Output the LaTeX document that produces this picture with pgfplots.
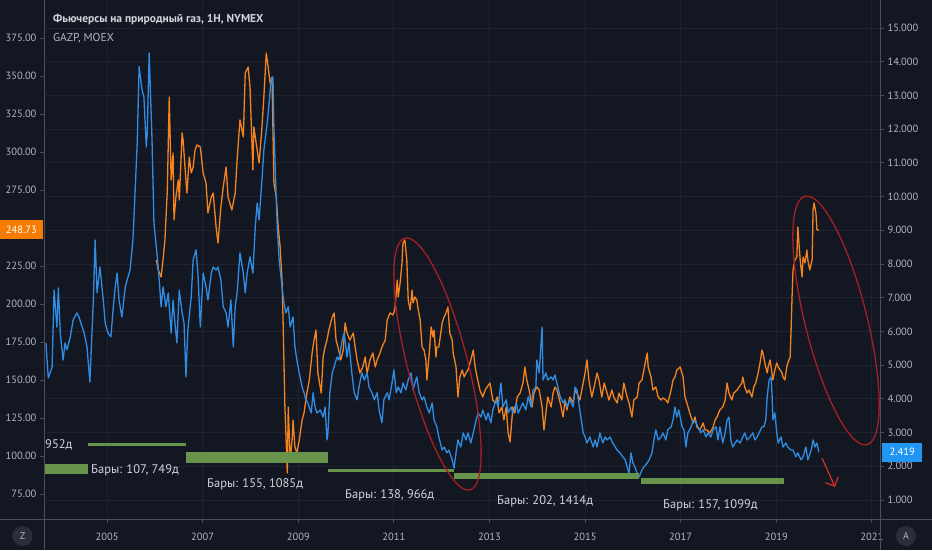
\documentclass[border=0pt]{standalone}
\usepackage{pgfplots}
\pgfplotsset{compat=1.18}
\usepackage{fontspec}
\setmainfont{PT Sans}
\usetikzlibrary{arrows.meta}
\definecolor{bgc}{HTML}{131722}
\definecolor{gridc}{HTML}{1F2331}
\definecolor{linec}{HTML}{4A4E5A}
\definecolor{labc}{HTML}{B2B5BE}
\definecolor{ngblue}{HTML}{2F8DE4}
\definecolor{gzorange}{HTML}{F5841F}
\definecolor{barg}{HTML}{67944A}
\definecolor{ellred}{HTML}{A81E25}
\definecolor{arrred}{HTML}{D62E2E}
\definecolor{boxblue}{HTML}{2196F3}
\definecolor{boxorange}{HTML}{F57C00}
\definecolor{titlec}{HTML}{D1D4DC}
\definecolor{circc}{HTML}{2A2E39}
\pgfplotsset{tvaxis/.style={scale only axis, width=836pt, height=519pt,
  xmin=2003.68, xmax=2021.17, axis line style={draw=none},
  ticklabel style={font=\fontsize{10.5}{12}\selectfont, text=labc},
  tick align=outside, major tick length=4pt,
  tick style={draw=linec, line width=0.8pt},
  /pgf/number format/assume math mode=true}}
\begin{document}
\begin{tikzpicture}
\useasboundingbox (-44pt,-31pt) rectangle (888pt,519pt);
\fill[bgc] (-44pt,-31pt) rectangle (888pt,519pt);
% axis 1: grid, right scale, x labels
\begin{axis}[tvaxis, ymin=0.436, ymax=15.83,
  axis x line*=bottom, axis y line*=right,
  xtick={2005,2007,...,2021},
  xticklabels={2005,2007,2009,2011,2013,2015,2017,2019,2021},
  ytick={1,2,...,15},
  yticklabels={1.000,2.000,3.000,4.000,5.000,6.000,7.000,8.000,9.000,10.000,11.000,12.000,13.000,14.000,15.000},
  xmajorgrids, ymajorgrids, grid style={draw=gridc, line width=0.8pt},
  xticklabel style={yshift=-6pt}]
\end{axis}
% axis 2: GAZP, left scale
\begin{axis}[tvaxis, ymin=58.55, ymax=400,
  axis y line*=left, axis x line=none,
  ytick={75,100,125,150,175,200,225,275,300,325,350,375},
  yticklabels={75.00,100.00,125.00,150.00,175.00,200.00,225.00,275.00,300.00,325.00,350.00,375.00}]
\addplot[gzorange, line width=1.3pt, line join=round] coordinates {
(2006.03,229.0)(2006.07,222.4)(2006.13,217.8)(2006.17,229.0)(2006.21,242.1)(2006.26,275.0)
(2006.30,336.2)(2006.34,281.6)(2006.38,299.3)(2006.40,255.3)(2006.44,270.4)(2006.49,281.6)
(2006.51,268.4)(2006.57,312.5)(2006.59,307.9)(2006.63,290.1)(2006.67,273.0)(2006.72,296.7)
(2006.76,286.2)(2006.80,290.1)(2006.84,301.3)(2006.88,304.6)(2006.95,303.3)(2007.01,286.2)
(2007.07,279.6)(2007.11,259.9)(2007.18,270.4)(2007.22,273.0)(2007.28,250.7)(2007.32,240.1)
(2007.38,263.8)(2007.43,277.0)(2007.49,290.1)(2007.53,270.4)(2007.61,261.8)(2007.68,273.0)
(2007.72,294.7)(2007.78,321.1)(2007.85,309.9)(2007.89,352.0)(2007.95,355.9)(2007.99,342.8)
(2008.05,288.2)(2008.07,316.4)(2008.14,301.3)(2008.18,292.8)(2008.24,316.4)(2008.28,336.2)
(2008.33,365.1)(2008.37,355.9)(2008.41,345.4)(2008.45,349.3)(2008.49,279.6)(2008.54,270.4)
(2008.58,250.7)(2008.62,237.5)(2008.66,215.8)(2008.68,191.4)(2008.72,132.2)(2008.77,88.8)
(2008.79,132.2)(2008.83,97.4)(2008.87,110.5)(2008.89,123.7)(2008.93,105.9)(2008.97,102.0)
(2009.02,110.5)(2009.08,123.7)(2009.12,128.3)(2009.18,141.4)(2009.23,150.0)(2009.29,167.8)
(2009.33,176.3)(2009.37,182.9)(2009.41,154.6)(2009.48,141.4)(2009.52,165.1)(2009.56,171.7)
(2009.60,176.3)(2009.64,182.9)(2009.71,191.4)(2009.75,194.1)(2009.79,176.3)(2009.83,171.7)
(2009.89,163.2)(2009.94,169.7)(2009.98,187.5)(2010.02,180.9)(2010.08,176.3)(2010.15,180.9)
(2010.19,171.7)(2010.23,163.2)(2010.29,154.6)(2010.35,158.6)(2010.40,165.1)(2010.44,154.6)
(2010.50,163.2)(2010.56,167.8)(2010.61,158.6)(2010.65,163.2)(2010.71,167.8)(2010.75,171.7)
(2010.82,176.3)(2010.86,189.5)(2010.92,194.1)(2010.98,192.8)(2011.02,196.1)(2011.07,215.8)
(2011.09,204.6)(2011.13,213.8)(2011.17,227.0)(2011.19,240.1)(2011.23,242.1)(2011.27,229.0)
(2011.30,202.6)(2011.34,196.1)(2011.38,209.2)(2011.40,200.7)(2011.44,204.6)(2011.48,202.6)
(2011.51,196.1)(2011.55,189.5)(2011.59,171.7)(2011.63,169.7)(2011.67,163.2)(2011.69,150.0)
(2011.74,167.8)(2011.78,184.9)(2011.82,178.3)(2011.84,182.9)(2011.88,165.1)(2011.90,171.7)
(2011.94,171.7)(2012.01,187.5)(2012.05,191.4)(2012.09,194.1)(2012.13,198.0)(2012.17,180.9)
(2012.22,176.3)(2012.24,167.8)(2012.30,158.6)(2012.34,138.8)(2012.38,152.0)(2012.43,156.6)
(2012.47,152.0)(2012.51,154.6)(2012.55,156.6)(2012.61,163.2)(2012.66,169.7)(2012.70,158.6)
(2012.74,152.0)(2012.80,143.4)(2012.86,138.8)(2012.91,143.4)(2012.95,145.4)(2013.01,148.0)
(2013.07,136.8)(2013.12,134.9)(2013.16,138.8)(2013.20,128.3)(2013.26,132.2)(2013.30,123.7)
(2013.35,132.2)(2013.39,115.1)(2013.43,109.2)(2013.49,132.2)(2013.53,128.3)(2013.58,138.8)
(2013.64,141.4)(2013.70,148.0)(2013.74,158.6)(2013.78,150.0)(2013.83,143.4)(2013.89,132.2)
(2013.93,141.4)(2013.99,145.4)(2014.04,143.4)(2014.10,132.2)(2014.14,117.1)(2014.18,128.3)
(2014.22,138.8)(2014.29,132.2)(2014.33,141.4)(2014.37,145.4)(2014.41,143.4)(2014.48,134.9)
(2014.54,125.7)(2014.58,136.8)(2014.62,130.3)(2014.68,138.8)(2014.75,134.9)(2014.79,143.4)
(2014.83,141.4)(2014.89,136.8)(2014.96,148.0)(2015.00,154.6)(2015.04,163.2)(2015.08,150.0)
(2015.14,138.8)(2015.19,145.4)(2015.25,154.6)(2015.29,150.0)(2015.35,138.8)(2015.40,148.0)
(2015.46,141.4)(2015.50,136.8)(2015.56,143.4)(2015.60,138.8)(2015.67,134.9)(2015.71,141.4)
(2015.77,136.8)(2015.81,148.0)(2015.88,138.8)(2015.92,134.9)(2015.98,125.7)(2016.02,136.8)
(2016.09,138.8)(2016.13,148.0)(2016.19,150.0)(2016.23,156.6)(2016.30,167.8)(2016.32,158.6)
(2016.38,152.0)(2016.42,143.4)(2016.48,145.4)(2016.53,138.8)(2016.59,136.8)(2016.63,138.2)
(2016.69,136.8)(2016.73,134.9)(2016.80,143.4)(2016.84,150.0)(2016.88,152.0)(2016.92,156.6)
(2016.99,158.6)(2017.05,152.0)(2017.09,138.8)(2017.13,134.9)(2017.19,128.3)(2017.26,121.7)
(2017.30,125.7)(2017.34,119.1)(2017.40,117.1)(2017.47,121.7)(2017.51,117.1)(2017.55,117.1)
(2017.61,115.1)(2017.68,119.1)(2017.72,123.7)(2017.76,125.7)(2017.82,130.3)(2017.88,132.2)
(2017.93,136.8)(2017.97,148.0)(2018.01,141.4)(2018.07,136.8)(2018.11,141.4)(2018.18,143.4)
(2018.22,145.4)(2018.28,148.0)(2018.30,152.0)(2018.34,145.4)(2018.39,141.4)(2018.43,143.4)
(2018.49,138.8)(2018.53,145.4)(2018.57,148.0)(2018.62,154.6)(2018.66,161.2)(2018.70,169.7)
(2018.72,167.8)(2018.76,161.2)(2018.81,154.6)(2018.83,158.6)(2018.87,163.2)(2018.91,154.6)
(2018.93,150.0)(2018.97,156.6)(2019.01,161.2)(2019.04,158.6)(2019.08,156.6)(2019.12,154.6)
(2019.14,152.0)(2019.18,150.0)(2019.22,158.6)(2019.24,161.2)(2019.29,165.1)(2019.31,182.9)
(2019.33,204.6)(2019.35,222.4)(2019.39,229.0)(2019.43,230.9)(2019.45,250.7)(2019.50,229.0)
(2019.54,217.8)(2019.56,230.9)(2019.60,227.0)(2019.64,235.5)(2019.66,229.0)(2019.70,222.4)
(2019.75,229.0)(2019.77,261.8)(2019.79,266.5)(2019.83,259.9)(2019.85,248.7)(2019.89,248.73)
};
\coordinate (gz) at (axis cs:2003.68,248.73);
\end{axis}
% axis 3: natural gas
\begin{axis}[tvaxis, ymin=0.436, ymax=15.83, hide axis]
\addplot[ngblue, line width=1.3pt, line join=round] coordinates {
(2003.72,5.66)(2003.77,4.62)(2003.85,4.95)(2003.89,7.23)(2003.95,6.13)(2003.98,7.29)
(2004.02,5.95)(2004.08,5.15)(2004.12,5.66)(2004.16,5.45)(2004.23,5.84)(2004.29,6.34)
(2004.37,6.55)(2004.41,6.43)(2004.48,6.13)(2004.52,5.95)(2004.58,5.54)(2004.64,4.50)
(2004.71,6.84)(2004.75,8.71)(2004.79,7.14)(2004.85,7.91)(2004.92,6.93)(2004.96,6.25)
(2005.02,5.95)(2005.08,5.84)(2005.13,6.73)(2005.17,7.32)(2005.21,7.73)(2005.25,6.93)
(2005.31,6.43)(2005.38,7.32)(2005.42,7.53)(2005.48,7.82)(2005.54,8.71)(2005.56,9.31)
(2005.63,11.59)(2005.67,13.85)(2005.73,13.16)(2005.77,12.96)(2005.82,11.47)(2005.84,11.89)
(2005.88,14.26)(2005.94,11.68)(2005.98,9.22)(2006.05,8.21)(2006.09,7.53)(2006.13,6.73)
(2006.17,7.32)(2006.23,6.73)(2006.28,7.14)(2006.34,5.95)(2006.38,6.93)(2006.42,6.25)
(2006.46,5.66)(2006.51,7.23)(2006.57,6.55)(2006.61,6.25)(2006.65,4.65)(2006.69,6.04)
(2006.76,7.02)(2006.80,8.12)(2006.86,8.42)(2006.90,7.73)(2006.95,6.13)(2007.01,7.73)
(2007.07,7.32)(2007.11,6.93)(2007.18,7.73)(2007.22,7.91)(2007.28,7.82)(2007.32,7.91)
(2007.38,7.53)(2007.43,6.73)(2007.49,6.55)(2007.53,6.13)(2007.59,6.93)(2007.64,5.54)
(2007.68,6.73)(2007.72,7.14)(2007.78,8.33)(2007.85,7.73)(2007.89,7.14)(2007.93,7.73)
(2007.99,8.21)(2008.05,7.73)(2008.10,9.10)(2008.14,9.81)(2008.18,9.31)(2008.24,10.49)
(2008.28,11.38)(2008.35,12.18)(2008.39,12.78)(2008.43,13.46)(2008.47,13.55)(2008.49,12.07)
(2008.54,9.90)(2008.56,9.10)(2008.60,8.12)(2008.66,7.32)(2008.70,6.84)(2008.74,6.55)
(2008.79,6.73)(2008.83,6.13)(2008.89,6.43)(2008.93,5.54)(2008.97,5.15)(2009.02,4.77)
(2009.08,4.35)(2009.12,4.18)(2009.16,3.97)(2009.20,3.88)(2009.27,3.58)(2009.31,4.18)
(2009.35,3.76)(2009.39,3.58)(2009.46,3.67)(2009.52,3.46)(2009.56,3.76)(2009.60,2.78)
(2009.62,2.99)(2009.66,4.18)(2009.71,4.77)(2009.75,4.95)(2009.81,5.24)(2009.85,5.15)
(2009.92,5.75)(2009.96,5.95)(2010.02,5.24)(2010.06,5.66)(2010.12,4.77)(2010.17,4.18)
(2010.23,3.97)(2010.27,4.35)(2010.33,4.77)(2010.38,4.56)(2010.44,4.77)(2010.48,4.35)
(2010.54,4.18)(2010.59,3.97)(2010.65,4.18)(2010.69,3.67)(2010.75,3.29)(2010.79,3.97)
(2010.86,4.18)(2010.90,3.97)(2010.96,4.47)(2011.00,4.86)(2011.05,4.18)(2011.09,4.35)
(2011.15,4.18)(2011.19,4.47)(2011.25,4.26)(2011.30,4.56)(2011.36,4.77)(2011.40,4.26)
(2011.44,4.47)(2011.48,4.65)(2011.53,4.18)(2011.59,3.97)(2011.63,4.06)(2011.69,3.76)
(2011.74,3.58)(2011.80,3.88)(2011.84,3.37)(2011.90,3.17)(2011.94,2.87)(2012.01,2.48)
(2012.05,2.57)(2012.11,2.40)(2012.15,2.48)(2012.22,2.19)(2012.26,1.95)(2012.30,2.40)
(2012.34,2.78)(2012.40,2.57)(2012.45,2.99)(2012.51,2.78)(2012.55,2.99)(2012.61,2.69)
(2012.66,2.99)(2012.72,3.37)(2012.76,3.58)(2012.82,3.46)(2012.86,3.67)(2012.93,3.37)
(2012.97,3.58)(2013.03,3.29)(2013.07,3.67)(2013.14,3.97)(2013.18,3.76)(2013.24,4.47)
(2013.28,3.76)(2013.35,3.97)(2013.39,3.58)(2013.45,3.76)(2013.49,3.58)(2013.56,3.88)
(2013.60,3.58)(2013.66,3.76)(2013.70,3.88)(2013.76,3.67)(2013.81,4.06)(2013.87,3.76)
(2013.91,4.26)(2013.97,4.35)(2013.99,5.15)(2014.04,4.77)(2014.10,6.13)(2014.12,4.56)
(2014.18,4.77)(2014.22,4.56)(2014.29,4.65)(2014.33,4.56)(2014.37,4.71)(2014.41,4.47)
(2014.48,4.06)(2014.54,3.88)(2014.58,3.97)(2014.62,3.76)(2014.68,3.97)(2014.75,3.76)
(2014.79,4.35)(2014.83,4.26)(2014.89,3.67)(2014.96,2.99)(2015.00,2.87)(2015.04,2.69)
(2015.10,2.87)(2015.17,2.57)(2015.21,2.78)(2015.25,2.57)(2015.31,2.99)(2015.37,2.69)
(2015.42,2.87)(2015.46,2.78)(2015.52,2.87)(2015.58,2.69)(2015.63,2.57)(2015.67,2.48)
(2015.73,2.40)(2015.79,2.28)(2015.84,2.19)(2015.88,1.98)(2015.92,1.80)(2015.96,2.40)
(2016.00,2.10)(2016.04,1.98)(2016.09,1.80)(2016.13,1.68)(2016.19,1.89)(2016.23,1.98)
(2016.30,2.10)(2016.34,2.19)(2016.40,2.40)(2016.44,2.78)(2016.48,3.08)(2016.53,2.78)
(2016.59,2.87)(2016.63,2.99)(2016.69,2.78)(2016.73,3.08)(2016.80,3.17)(2016.84,3.37)
(2016.88,3.76)(2016.92,3.46)(2016.96,3.67)(2017.03,3.17)(2017.07,3.08)(2017.11,2.57)
(2017.15,2.99)(2017.22,3.17)(2017.26,3.37)(2017.32,3.29)(2017.36,3.17)(2017.42,2.99)
(2017.47,3.08)(2017.53,2.87)(2017.57,2.99)(2017.63,2.87)(2017.68,3.08)(2017.74,3.17)
(2017.78,2.78)(2017.82,3.17)(2017.88,2.69)(2017.93,2.99)(2017.97,3.37)(2018.01,3.46)
(2018.05,2.78)(2018.09,2.57)(2018.14,2.69)(2018.18,2.78)(2018.24,2.69)(2018.30,2.87)
(2018.34,2.99)(2018.39,2.78)(2018.45,2.87)(2018.51,2.99)(2018.55,2.78)(2018.60,2.87)
(2018.64,2.99)(2018.70,3.17)(2018.74,3.17)(2018.78,3.37)(2018.81,4.06)(2018.85,4.56)
(2018.89,4.65)(2018.91,4.18)(2018.93,3.37)(2018.97,3.58)(2019.01,2.99)(2019.04,2.69)
(2019.10,2.87)(2019.14,2.57)(2019.20,2.69)(2019.24,2.57)(2019.31,2.48)(2019.35,2.48)
(2019.41,2.28)(2019.45,2.40)(2019.52,2.19)(2019.56,2.28)(2019.62,2.57)(2019.66,2.19)
(2019.73,2.48)(2019.77,2.78)(2019.81,2.57)(2019.85,2.69)(2019.89,2.419)
};
\coordinate (ng) at (axis cs:2021.17,2.419);
\end{axis}
% price boxes
\node[fill=boxorange, text=white, anchor=east, inner sep=0pt, minimum width=43pt, minimum height=19pt, font=\fontsize{10.5}{12}\selectfont] at ([xshift=-1pt]gz) {248.73};
\node[fill=boxblue, text=white, anchor=west, inner sep=0pt, minimum width=40pt, minimum height=19pt, font=\fontsize{10.5}{12}\selectfont] at ([xshift=2pt]ng) {2.419};
% annotations in pixel coordinates
\begin{scope}[x=1pt, y=-1pt, shift={(-44pt,519pt)}]
\draw[linec, line width=1pt] (44,0) -- (44,550);
\draw[linec, line width=1pt] (880,0) -- (880,550);
\draw[linec, line width=1pt] (0,519) -- (932,519);
\fill[circc] (22.5,536) circle (10pt);
\node[text=labc, font=\fontsize{10}{12}\selectfont] at (22.5,536) {Z};
\fill[circc] (906,536) circle (10pt);
\node[text=labc, font=\fontsize{10}{12}\selectfont] at (906,536) {A};
% title
\node[anchor=base west, inner sep=0pt, text=titlec, font=\fontsize{11.5}{13}\selectfont\bfseries] at (53,23) {Фьючерсы на природный газ, 1Н, NYMEX};
\node[anchor=base west, inner sep=0pt, text=labc, font=\fontsize{11.5}{13}\selectfont] at (53,41.5) {GAZP, MOEX};
% green bars
\fill[barg] (45,464) rectangle (88,474);
\fill[barg] (88,443) rectangle (186,445.5);
\fill[barg] (186,452) rectangle (328,463);
\fill[barg] (328,468.5) rectangle (454,471.5);
\fill[barg] (454,473) rectangle (639,479);
\fill[barg] (641,478) rectangle (784,484);
\begin{scope}[every node/.style={anchor=base west, inner sep=0pt, text=titlec, font=\fontsize{12.5}{14}\selectfont}]
\node at (45,448) {952д};
\node at (91,473.5) {Бары: 107, 749д};
\node at (207,487.5) {Бары: 155, 1085д};
\node at (345,498.5) {Бары: 138, 966д};
\node at (497,504.5) {Бары: 202, 1414д};
\node at (663,508.5) {Бары: 157, 1099д};
\end{scope}
% ellipses and arrow
\draw[ellred, line width=1.3pt, rotate around={14.5:(437.5,364)}] (437.5,364) ellipse [x radius=30pt, y radius=130pt];
\draw[ellred, line width=1.3pt, rotate around={14:(836,320.5)}] (836,320.5) ellipse [x radius=31pt, y radius=128pt];
\draw[arrred, line width=1.2pt, -{Straight Barb[length=7pt,width=14pt]}] (822,458) -- (835,487);
\end{scope}
\end{tikzpicture}
\end{document}
